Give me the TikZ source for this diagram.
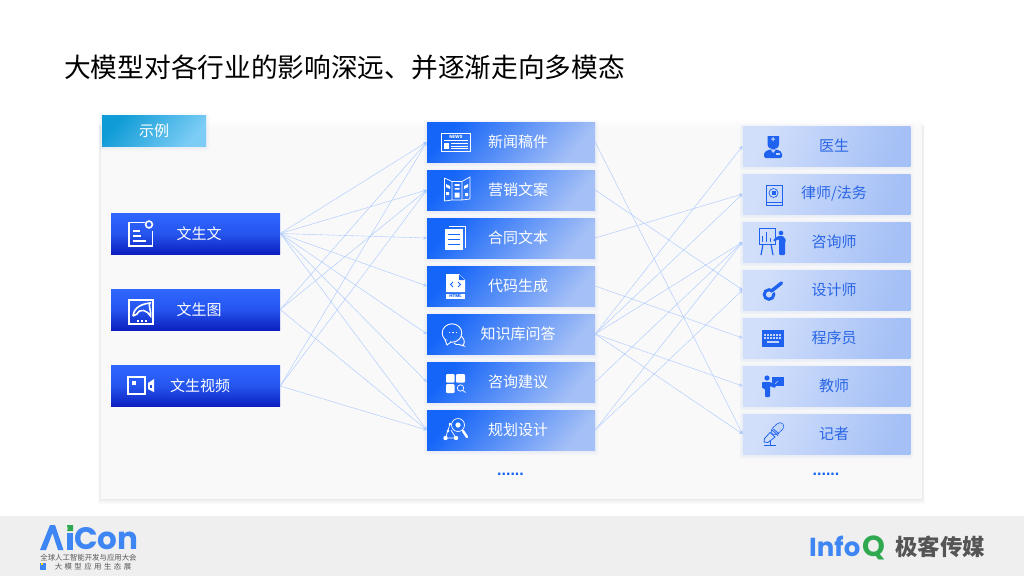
\documentclass[tikz,border=0pt]{standalone}
\usepackage{fontspec}
\setmainfont{Noto Sans CJK SC}
\newfontfamily\logofont{Poppins}
\newfontfamily\dotfont{Liberation Sans}
\usetikzlibrary{arrows.meta}
\definecolor{linkc}{HTML}{AECAFC}
\definecolor{icoB}{HTML}{1F62F0}
\definecolor{midB}{HTML}{1565F8}
\definecolor{topB}{HTML}{2E67FF}
\definecolor{botB}{HTML}{0C1FBE}
\definecolor{pale}{HTML}{A5C0F6}
\definecolor{shc}{HTML}{6F8FC8}
\definecolor{rtext}{HTML}{2A66E6}
\definecolor{footc}{HTML}{EFEFEF}
\definecolor{panelc}{HTML}{F9F9FA}
\definecolor{logoB}{HTML}{3F86F5}
\definecolor{logoG}{HTML}{2FA84F}
\definecolor{logoT}{HTML}{555555}
\definecolor{tabA}{HTML}{0E9BD6}
\definecolor{tabB}{HTML}{7CCDF5}
\definecolor{keyc}{HTML}{C4D6F8}
\newcommand{\softsh}[5]{\foreach \s in {1,...,5}{\fill[shc,opacity=#5,rounded corners=2pt] ({#1-\s*.7},{#2-\s*.7+1.5}) rectangle ({#3+\s*.7},{#4+\s*.7+1.5});}}
\tikzset{
 leftbox/.style={minimum width=169pt,minimum height=41pt,inner sep=0pt,top color=topB,bottom color=botB,middle color=topB!75!botB},
 midbox/.style={minimum width=168pt,minimum height=40pt,inner sep=0pt,left color=midB,right color=pale,middle color=midB!50!pale,shading angle=50},
 rightbox/.style={minimum width=167.5pt,minimum height=40pt,inner sep=0pt,left color=pale!50!white,right color=pale,shading angle=70},
 wlabel/.style={text=white,font=\fontsize{15}{15}\selectfont,inner sep=0pt},
 blabel/.style={text=rtext,font=\fontsize{15}{15}\selectfont,inner sep=0pt},
 link/.style={draw=linkc,line width=.55pt,dash pattern=on .8pt off .4pt,-{Stealth[length=3.5pt,width=3.5pt]}},
 wl/.style={draw=white,line width=1.6pt,fill=none},
 wt/.style={draw=white,line width=.7pt,fill=none},
 wf/.style={fill=white,draw=none},
 bl/.style={draw=icoB,line width=.9pt,fill=none},
 bf/.style={fill=icoB,draw=none},
 dotsn/.style={text=midB,font=\dotfont\bfseries\fontsize{16}{16}\selectfont,inner sep=0pt,anchor=base},
}
\begin{document}
\begin{tikzpicture}[x=1pt,y=-1pt]
\useasboundingbox (0,0) rectangle (1024,576);
\fill[white] (0,0) rectangle (1024,576);
% footer
\fill[footc] (0,516) rectangle (1024,576);
% title
\node[anchor=west,inner sep=0pt,text=black,font=\fontsize{26.7}{27}\selectfont] (title) at (64,67) {大模型对各行业的影响深远、并逐渐走向多模态};
% panel
\foreach \s in {1,...,5}{\fill[black,opacity=.014] ({101-\s*.6},{125}) rectangle ({922+\s*.6},{499+\s*1});}
\fill[panelc] (101,128) rectangle (922,499);
\shade[top color=white,bottom color=panelc] (101,118) rectangle (922,128);
% header tab
\softsh{102}{115}{206}{146}{.015}
\node[minimum width=104pt,minimum height=31pt,inner sep=0pt,left color=tabA,right color=tabB,shading angle=50] (tab) at (154,130.5) {};
\node[wlabel] (tabt) at (154,131) {示例};
% left boxes
\foreach \n/\y/\t/\tx in {l1/233.5/文生文/199,l2/309.5/文生图/199,l3/386/文生视频/200}{
 \node[leftbox] (\n) at (195.5,\y) {};
 \node[wlabel] (\n t) at (\tx,\y) {\t};
}
% middle boxes
\foreach \n/\y/\t in {m1/142/新闻稿件,m2/190/营销文案,m3/238/合同文本,m4/286/代码生成,m5/334/知识库问答,m6/382/咨询建议,m7/430/规划设计}{
 \softsh{427}{\y-20}{595}{\y+20}{.02}
 \node[midbox] (\n) at (511,\y) {};
 \node[wlabel] (\n t) at (518,\y) {\t};
}
% right boxes
\foreach \n/\y in {r1/146,r2/194,r3/242,r4/290,r5/338,r6/386,r7/434}{
 \softsh{743}{\y-20}{910}{\y+20}{.02}
 \node[rightbox] (\n) at (826.5,\y) {};
}
\node[blabel] (r1t) at (834,146) {医生};
\node[blabel] (r2t) at (834,194) {律师/法务};
\node[blabel] (r3t) at (834,242) {咨询师};
\node[blabel] (r4t) at (834,290) {设计师};
\node[blabel] (r5t) at (834,338) {程序员};
\node[blabel] (r6t) at (834,386) {教师};
\node[blabel] (r7t) at (834,434) {记者};
\node[dotsn] (d1) at (510.5,475) {......};
\node[dotsn] (d2) at (826,475) {......};
% connectors
\foreach \a/\b in {l1/m1,l1/m2,l1/m3,l1/m4,l1/m5,l1/m6,l1/m7,l2/m1,l2/m2,l2/m7,l3/m1,l3/m2,l3/m7,
 m1/r7,m2/r4,m3/r2,m4/r5,m5/r1,m5/r2,m5/r3,m5/r6,m5/r7,m6/r3,m7/r3,m7/r4}{
 \draw[link] (\a.east) -- (\b.west);
}
% ---- icons left
\draw[wl] (145,222.5) -- (129,222.5) -- (129,246) -- (152.5,246) -- (152.5,231);
\draw[wl] (149,224.5) circle (3.4);
\foreach \y/\e in {231/140,236/141,241/146}{\draw[wl] (133,\y) -- (\e,\y);}
\draw[wl] (129,300) rectangle (153,324);
\draw[wl] (133,316) .. controls (134,307) and (142,304) .. (150,303) .. controls (148,306) and (151,308) .. (150.5,316) .. controls (147,310) and (140,308) .. (137,314) -- (133,316);
\foreach \x in {137,141,145}{\fill[wf] (\x,320) rectangle +(2,2);}
\draw[line width=2pt,draw=white] (128,377) rectangle (145,394);
\fill[wf] (132,381) rectangle (135.5,384.5);
\fill[wf] (148,383) -- (154,379) -- (154,392) -- (148,389) -- cycle;
\fill[topB!60!botB] (150,384.5) rectangle (152,388);
% ---- icons middle
\draw[wt] (441.5,133) rectangle (470,151.5);
\node[text=white,font=\logofont\bfseries\fontsize{4.5}{4.5}\selectfont,inner sep=0pt] (news) at (456,137) {NEWS};
\draw[wt] (444,140.5) -- (468,140.5);
\foreach \y in {143.5,146,148.5}{\draw[wt] (451,\y) -- (468,\y);}
\fill[wf] (444,143) rectangle (449,148.5);
% brochure
\draw[wt] (444.5,178) -- (452,181.5) -- (452,200) -- (444.5,201) -- (444.5,178) (452,181.5) -- (462,181.5) -- (462,200) -- (452,200) (462,181.5) -- (470,177) -- (470,199) -- (462,200);
\fill[wf] (454.5,184) rectangle (459.5,186) (454.5,188) rectangle (459.5,189.5) (454.5,192.5) rectangle (459.5,197.5);
\fill[wf] (446,184) -- (450,186) -- (450,189) -- (446,187) -- cycle (446,192) rectangle (449,195);
\fill[wf] (464,186) -- (468,184) -- (468,187) -- (464,189) -- cycle (465,193) rectangle (468,196);
% contract
\draw[wt] (449,226.5) -- (465.5,226.5) -- (465.5,248);
\fill[wf] (445,229) rectangle (462.5,250);
\foreach \y in {234,239,244}{\draw[midB,line width=1pt] (448,\y) -- (459.5,\y);}
% code
\fill[wf] (446,274) -- (459,274) -- (465,280) -- (465,292) -- (446,292) -- cycle;
\fill[midB] (459,274.5) -- (459,280) -- (464.5,280) -- cycle;
\draw[midB,line width=.8pt] (453,282) -- (450.5,284.5) -- (453,287) (458,282) -- (460.5,284.5) -- (458,287);
\fill[wf] (446,293.5) rectangle (465,299);
\node[text=midB,font=\logofont\bfseries\fontsize{4.5}{4.5}\selectfont,inner sep=0pt] (html) at (455.5,296.3) {HTML};
% chat
\draw[wt,line width=.9pt] (452,333) ellipse (9.8 and 9.2);
\fill[midB] (445,340) -- (449,346) -- (450,341) -- cycle;
\draw[wt,line width=.9pt] (445,339.5) -- (447,345) -- (451,342);
\foreach \x in {448.5,452,455.5}{\fill[wf] (\x,331.5) rectangle +(1.5,1.5);}
\draw[wt,line width=.9pt] (461.5,336) .. controls (466,341) and (464,344) .. (463,345) -- (464,346) -- (459,344.5) .. controls (457,345) and (455,344.5) .. (454,343);
% suggest
\fill[wf,rounded corners=1pt] (446,374) rectangle (454.5,382.5) (456,374) rectangle (465,382.5) (446,384) rectangle (454.5,393);
\draw[wt] (460.5,388) circle (3.2) (463,390.5) -- (465.5,392.5);
% plan
\draw[wt] (445.5,438) -- (450,424) (445.5,438) -- (456,438) (456,438) -- (451,430);
\draw[wt] (458,425) circle (6.5);
\fill[wf] (458,425) circle (2.6) (445.5,438) circle (2.2) (456,438) circle (2.2) (450,424) circle (1.4) (448,431) circle (1.4);
\draw[white,line width=2.4pt,line cap=round] (463,431) -- (467,437);
% ---- icons right
\fill[bf] (767.5,136) -- (779,136) -- (779,144) .. controls (779,151) and (767.5,151) .. (767.5,144) -- cycle;
\fill[bf,rounded corners=1.5pt] (764,158) -- (764,152.5) -- (769,149.5) -- (777.5,149.5) -- (782,152.5) -- (782,158) -- cycle;
\fill[keyc] (776,153) rectangle (780,155);
\fill[keyc] (772.5,137) rectangle (773.5,141) (771,138.5) rectangle (775,139.5);
\fill[keyc] (771,150) -- (775.5,150) -- (773.2,153) -- cycle;
% book
\draw[bl,line width=.7pt] (766,185) rectangle (782,202) (766,202) -- (766,205) -- (782,205) -- (782,202);
\draw[bl,line width=.7pt] (773.5,193) circle (4.5);
\fill[bf] (771.5,191) rectangle (775.5,195);
% consultant
\draw[bl] (759.5,228.5) rectangle (775.5,244);
\draw[bl,line width=.8pt] (762,242) -- (762,236) (766,242) -- (766,232) (770,242) -- (770,238);
\draw[bl,line width=1.2pt] (763,244) -- (761,255) (771,244) -- (773,255);
\fill[bf] (781,233) circle (2.3);
\fill[bf,rounded corners=1pt] (778,236) -- (773,240) -- (774,241.5) -- (779,239) -- (779,255) -- (785,255) -- (785,243) -- (786,240) -- (783,236) -- cycle;
% designer
\draw[icoB,line width=3pt] (769,294.5) circle (4.8);
\draw[keyc,line width=1pt] (771,294) -- (780,286);
\draw[icoB,line width=3.4pt,line cap=round] (772,290.5) -- (781.5,283);
% keyboard
\fill[bf] (762,330) rectangle (784,347);
\foreach \y in {333.5,337}{\foreach \x in {764,767,770,773,776,779}{\fill[keyc] (\x,\y) rectangle +(2,2.2);}}
\fill[keyc] (767,341) rectangle (779,343);
% teacher
\fill[bf] (767,378) circle (2.6);
\fill[bf,rounded corners=.8pt] (762,382) -- (770,382) -- (776,386) -- (775,388) -- (770,386) -- (770,397) -- (765,397) -- (765,389) -- (762,388) -- cycle;
\fill[bf] (772,377) rectangle (784,386);
\draw[keyc,line width=.5pt] (775,384) -- (778,381);
% mic
\draw[icoB,line width=8.4pt,line cap=round] (775,431) -- (780,426.5);
\draw[keyc,line width=6.8pt,line cap=round] (775,431) -- (780,426.5);
\draw[bl,line width=.8pt] (770,432.5) -- (775,437) -- (768,442.5) -- (764,442) -- (764.5,438.5) -- cycle (772,430) -- (778,435.5) (773.5,429) -- (779,434);
\draw[bl,line width=.8pt] (770,440) -- (770,445) (763.5,445) -- (776,445);
% ---- logos
\fill[logoB] (40,550) -- (50,525) -- (55,525) -- (63.5,550) -- (58,550) -- (52.5,533) -- (46,550) -- cycle;
\fill[logoB] (67,533) rectangle (73,550);
\fill[logoG] (67,525) -- (73,525) -- (73,531) -- (67,531) .. controls (69,530) and (67,528) .. (67,525);
\node[anchor=base west,inner sep=0pt,text=logoB,font=\logofont\bfseries\fontsize{31}{31}\selectfont] (con) at (74,549.5) {Con};
\node[anchor=center,inner sep=0pt,text=logoT,font=\fontsize{7.4}{7.4}\selectfont] (sub1) at (88.5,557.5) {全球人工智能开发与应用大会};
\node[anchor=center,inner sep=0pt,text=logoT,font=\fontsize{7.4}{7.4}\selectfont] (sub2) at (93,566.5) {大\,\,模\,\,型\,\,应\,\,用\,\,生\,\,态\,\,展};
\fill[logoB] (40,563) rectangle (46,570);
\fill[yellow!80!orange] (41,563) rectangle (43,565);
\node[anchor=base west,inner sep=0pt,text=logoB,font=\logofont\bfseries\fontsize{26}{26}\selectfont] (info) at (809,556) {Info};
\node[anchor=base west,inner sep=0pt,text=logoG,font=\logofont\bfseries\fontsize{29}{29}\selectfont] (q) at (862,556) {Q};
\node[anchor=west,inner sep=0pt,text=logoT,font=\bfseries\fontsize{22.5}{23}\selectfont] (jk) at (895,547) {极客传媒};
\end{tikzpicture}
\end{document}
